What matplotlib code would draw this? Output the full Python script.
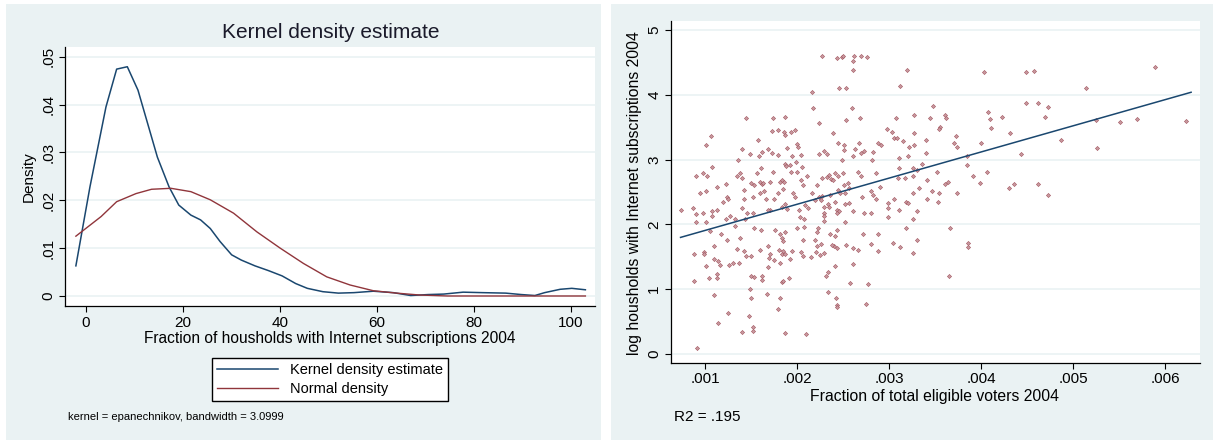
import numpy as np
import matplotlib
matplotlib.use("Agg")
import matplotlib.pyplot as plt
from matplotlib.patches import Rectangle

plt.rcParams['font.family'] = ['Liberation Sans', 'DejaVu Sans']

# ---- left panel: kernel density vs normal density ----
kde_x = [-2.0, 0.9, 4.2, 6.4, 8.6, 10.8, 12.8, 14.8, 17.2, 19.2, 21.7, 23.7, 25.7,
         27.7, 30.1, 32.1, 34.9, 37.7, 40.5, 43.3, 45.7, 48.9, 52.1, 55.3, 59.3,
         63.4, 67.0, 70.6, 73.8, 77.8, 81.8, 86.6, 89.8, 92.6, 94.6, 97.8, 100.2, 103.0]
kde_y = [0.0063, 0.0228, 0.0395, 0.0474, 0.0479, 0.043, 0.036, 0.029, 0.0228, 0.019,
         0.0169, 0.0159, 0.0141, 0.0114, 0.0086, 0.0075, 0.0063, 0.0053, 0.0042,
         0.0026, 0.0016, 0.0009, 0.0006, 0.0007, 0.0010, 0.0007, 0.0001, 0.0003,
         0.0004, 0.0008, 0.0007, 0.0006, 0.0003, 0.0001, 0.0007, 0.0014, 0.0016, 0.0013]

norm_x = [-2.0, 3.2, 6.4, 10.4, 13.6, 17.6, 21.7, 25.7, 30.5, 35.3, 40.1, 44.9,
          49.7, 54.5, 59.3, 64.1, 68.9, 74.6, 85.0, 95.0, 103.0]
norm_y = [0.0125, 0.0166, 0.0197, 0.0214, 0.0223, 0.0225, 0.0218, 0.0201, 0.0173,
          0.0134, 0.0100, 0.0068, 0.0040, 0.0023, 0.0011, 0.0006, 0.0002, 0.0,
          0.0, 0.0, 0.0]

dens_ticks = [0, 0.01, 0.02, 0.03, 0.04, 0.05]
dens_labels = ["0", ".01", ".02", ".03", ".04", ".05"]
frac_ticks = [0, 20, 40, 60, 80, 100]

# ---- right panel: scatter + fitted line ----
# x in thousandths of total eligible voters
voters_k = [2.27, 2.43, 2.48, 2.50, 2.62, 2.69, 2.76, 2.61, 2.61, 3.19, 2.45, 2.53, 2.16, 3.12,
            4.03, 4.49, 4.57, 5.89, 5.14, 4.49, 4.62, 4.72, 4.69, 4.22, 4.07, 4.09, 4.10, 4.31,
            4.87, 5.25, 5.51, 5.69, 6.22, 5.26, 4.06, 4.00, 4.43, 4.30, 4.36, 4.62, 4.72, 3.98,
            3.91, 3.84, 3.84, 3.47, 3.44, 3.60, 3.62, 3.72, 3.73, 3.70, 3.55, 3.54, 3.40, 3.40,
            3.35, 3.27, 3.27, 3.27, 3.07, 2.97, 3.03, 3.05, 3.08, 3.15, 3.21, 3.20, 3.10, 2.91,
            2.88, 2.82, 2.81, 2.69, 2.72, 2.67, 2.63, 2.61, 2.59, 2.68, 2.53, 2.39, 2.44, 2.51,
            2.51, 2.49, 2.29, 2.32, 2.24, 2.17, 2.23, 2.00, 2.01, 2.04, 1.97, 1.93, 1.86, 1.85,
            1.86, 1.79, 1.73, 1.72, 1.57, 1.44, 1.40, 1.48, 1.35, 1.06, 1.01, 1.07, 0.90, 0.97,
            1.02, 1.01, 0.94, 0.73, 0.86, 0.90, 0.90, 0.97, 1.07, 1.01, 1.07, 1.13, 1.13, 1.22,
            1.19, 1.24, 1.25, 1.22, 1.27, 1.32, 1.32, 1.38, 1.34, 1.40, 1.42, 1.42, 1.40, 1.45,
            1.43, 1.50, 1.53, 1.52, 1.56, 1.58, 1.62, 1.60, 1.59, 1.62, 1.63, 1.64, 1.59, 1.66,
            1.68, 1.72, 1.73, 1.70, 1.70, 1.68, 1.75, 1.79, 1.81, 1.83, 1.85, 1.84, 1.79, 1.86,
            1.88, 1.92, 1.89, 1.94, 1.98, 1.93, 1.95, 1.97, 1.87, 1.83, 1.89, 2.00, 2.04, 2.06,
            2.05, 2.10, 2.08, 2.11, 2.02, 2.03, 2.07, 2.16, 2.19, 2.23, 2.27, 2.26, 2.21, 2.27,
            2.32, 2.34, 2.37, 2.39, 2.41, 2.44, 2.50, 2.51, 2.52, 2.55, 2.56, 2.44, 2.46, 2.36,
            2.33, 2.29, 2.34, 2.41, 2.43, 2.45, 2.43, 2.29, 2.29, 2.29, 2.52, 2.56, 2.52, 2.61,
            2.72, 2.80, 2.82, 2.80, 2.70, 2.69, 2.66, 2.86, 2.85, 2.90, 2.99, 2.99, 2.98, 3.05,
            3.10, 3.18, 3.20, 3.26, 3.26, 3.30, 3.32, 3.26, 3.26, 3.17, 3.11, 3.09, 3.30, 3.41,
            3.52, 3.41, 3.46, 3.54, 3.53, 3.61, 3.64, 3.73, 3.66, 3.86, 3.85, 3.65, 3.30, 3.26,
            3.12, 3.04, 3.18, 2.88, 2.88, 2.80, 2.71, 2.66, 2.61, 2.57, 2.77, 2.75, 2.61, 2.53,
            2.40, 2.38, 2.41, 2.43, 2.43, 2.41, 2.35, 2.33, 2.31, 2.33, 2.42, 2.43, 2.43, 2.29,
            2.25, 2.20, 2.19, 2.21, 2.22, 2.21, 2.26, 2.15, 2.06, 2.04, 2.06, 2.00, 2.07, 2.09,
            1.86, 1.91, 1.83, 1.84, 1.81, 1.79, 1.83, 1.86, 1.80, 1.84, 1.81, 1.92, 1.94, 1.87,
            1.81, 1.83, 1.84, 1.76, 1.75, 1.68, 1.70, 1.69, 1.68, 1.67, 1.62, 1.62, 1.59, 1.60,
            1.53, 1.52, 1.50, 1.50, 1.53, 1.48, 1.50, 1.47, 1.52, 1.52, 1.40, 1.42, 1.44, 1.34,
            1.36, 1.30, 1.26, 1.38, 1.24, 1.17, 1.14, 1.16, 1.13, 1.13, 1.09, 1.09, 1.05, 1.01,
            1.04, 1.09, 1.14, 1.25, 0.98, 0.99, 0.88, 0.88, 0.91]
log_hh = [4.60, 4.57, 4.59, 4.60, 4.60, 4.60, 4.59, 4.52, 4.38, 4.38, 4.10, 4.10, 4.04, 4.14,
          4.35, 4.35, 4.37, 4.43, 4.10, 3.88, 3.87, 3.82, 3.66, 3.66, 3.73, 3.63, 3.49, 3.41,
          3.30, 3.61, 3.58, 3.63, 3.59, 3.18, 2.81, 3.26, 3.08, 2.56, 2.62, 2.62, 2.46, 2.64,
          2.74, 2.92, 3.05, 3.83, 3.64, 3.69, 3.64, 3.37, 3.20, 3.25, 3.51, 3.47, 3.30, 3.10,
          2.94, 3.41, 3.23, 3.69, 3.64, 3.48, 3.42, 3.33, 3.33, 3.29, 3.20, 3.05, 3.02, 3.23,
          3.25, 3.12, 3.00, 3.10, 3.14, 3.26, 3.17, 3.05, 3.79, 3.65, 3.61, 3.41, 3.26, 3.23,
          3.15, 2.99, 3.13, 3.08, 3.09, 3.80, 3.56, 3.24, 3.20, 3.07, 3.46, 3.43, 3.66, 3.43,
          3.38, 3.45, 3.65, 3.44, 3.31, 3.65, 3.16, 3.09, 3.00, 3.36, 3.23, 2.89, 2.75, 2.80,
          2.75, 2.52, 2.49, 2.23, 2.25, 2.16, 2.03, 2.17, 2.21, 2.04, 2.13, 2.23, 2.58, 2.62,
          2.35, 2.43, 2.39, 2.09, 2.13, 2.09, 1.97, 2.79, 2.75, 2.71, 2.53, 2.39, 2.25, 2.17,
          2.08, 2.64, 2.61, 2.43, 2.79, 3.05, 3.12, 2.87, 2.65, 2.62, 2.64, 2.51, 2.48, 2.40,
          3.16, 3.10, 2.81, 2.66, 2.22, 2.22, 2.39, 2.49, 2.66, 2.69, 2.66, 2.54, 3.07, 2.94,
          2.90, 2.92, 3.18, 3.05, 2.97, 2.81, 2.48, 2.43, 2.31, 2.27, 2.24, 2.81, 2.69, 2.61,
          2.89, 2.74, 2.30, 2.25, 2.22, 2.12, 2.09, 2.48, 2.38, 2.43, 2.44, 2.38, 2.61, 2.72,
          2.73, 2.76, 2.70, 2.69, 2.80, 2.75, 2.79, 2.61, 2.48, 2.64, 2.56, 2.53, 2.48, 2.45,
          2.32, 2.27, 2.27, 2.34, 2.23, 2.21, 2.18, 2.17, 2.13, 2.06, 2.31, 2.33, 2.04, 2.21,
          2.17, 2.17, 2.45, 2.51, 2.43, 2.75, 2.81, 2.79, 2.39, 2.58, 2.33, 2.25, 2.11, 2.39,
          2.22, 2.35, 2.33, 2.49, 2.09, 2.20, 2.56, 2.87, 2.74, 2.71, 2.87, 2.71, 2.84, 2.69,
          2.81, 2.39, 2.51, 2.48, 2.34, 2.63, 2.66, 2.48, 1.94, 1.72, 1.65, 1.20, 1.76, 1.56,
          1.65, 1.72, 1.95, 1.86, 1.59, 1.70, 1.86, 1.60, 1.39, 1.10, 1.08, 0.77, 1.63, 1.68,
          1.67, 1.68, 1.82, 1.91, 1.63, 1.36, 1.86, 1.26, 1.20, 0.96, 0.86, 0.76, 0.72, 1.56,
          1.53, 1.58, 1.76, 1.66, 1.94, 1.89, 1.70, 1.50, 1.51, 1.57, 1.76, 1.95, 1.96, 0.31,
          0.33, 1.18, 1.11, 1.12, 0.86, 0.70, 1.55, 1.55, 1.60, 1.59, 1.41, 1.47, 1.59, 1.89,
          1.86, 1.79, 1.75, 1.91, 1.45, 1.66, 1.55, 1.48, 1.35, 0.93, 1.20, 1.15, 1.60, 1.91,
          1.94, 2.17, 1.51, 1.20, 1.19, 1.01, 0.86, 0.59, 0.42, 0.36, 0.34, 1.59, 1.51, 1.62,
          1.41, 1.41, 1.37, 1.79, 1.76, 1.86, 1.44, 1.37, 1.24, 1.18, 1.46, 1.67, 1.90, 1.36,
          1.17, 0.91, 0.48, 0.64, 1.58, 1.54, 1.54, 1.13, 0.10]
fit_x = [0.00073, 0.00628]
fit_y = [1.80, 4.04]

vote_ticks = [0.001, 0.002, 0.003, 0.004, 0.005, 0.006]
vote_labels = [".001", ".002", ".003", ".004", ".005", ".006"]
log_ticks = [0, 1, 2, 3, 4, 5]

navy = '#1a476f'
maroon = '#90353b'
bg = '#eaf2f3'
W, H = 1213, 441

fig = plt.figure(figsize=(W / 100, H / 100), dpi=100, facecolor='white')
fig.patches.append(Rectangle((6 / W, 1 / H), 595 / W, 436 / H, transform=fig.transFigure,
                             facecolor=bg, edgecolor='none', zorder=-10))
fig.patches.append(Rectangle((611 / W, 1 / H), 602 / W, 436 / H, transform=fig.transFigure,
                             facecolor=bg, edgecolor='none', zorder=-10))


def style_axes(ax):
    ax.set_facecolor('white')
    for s in ['top', 'right']:
        ax.spines[s].set_visible(False)
    for s in ['left', 'bottom']:
        ax.spines[s].set_color('black')
        ax.spines[s].set_linewidth(0.9)
    ax.grid(axis='y', color=bg, linewidth=1.2)
    ax.set_axisbelow(True)
    ax.tick_params(direction='out', length=4, width=0.8, labelsize=11, colors='black', pad=3)
    ax.tick_params(axis='y', labelrotation=90)
    for lab in ax.get_yticklabels():
        lab.set_va('center')


# left
ax1 = fig.add_axes([65.4 / W, 1 - 306 / H, 529.2 / W, 258.7 / H])
l1, = ax1.plot(kde_x, kde_y, color=navy, lw=1.1, label='Kernel density estimate')
l2, = ax1.plot(norm_x, norm_y, color=maroon, lw=1.0, label='Normal density')
ax1.set_xlim(-4.16, 104.9)
ax1.set_ylim(-0.00209, 0.05196)
ax1.set_xticks(frac_ticks)
ax1.set_yticks(dens_ticks)
ax1.set_yticklabels(dens_labels)
style_axes(ax1)

fig.text(0.2726, 1 - 32 / H, 'Kernel density estimate', ha='center', va='center',
         fontsize=15, color='#1a1a2a')
fig.text(0.272, 1 - 338 / H, 'Fraction of housholds with Internet subscriptions 2004',
         ha='center', va='center', fontsize=11.2)
fig.text(29 / W, 1 - 177 / H, 'Density', ha='center', va='center', rotation=90, fontsize=11)
fig.text(68 / W, 1 - 417 / H, 'kernel = epanechnikov, bandwidth = 3.0999',
         ha='left', va='center', fontsize=8)
leg = fig.legend(handles=[l1, l2], loc='center', bbox_to_anchor=(0.272, 1 - 379.5 / H),
                 fontsize=10.5, frameon=True, fancybox=False, framealpha=1,
                 edgecolor='black', handlelength=4.2, labelspacing=0.35,
                 borderpad=0.35, handletextpad=0.8)
leg.get_frame().set_linewidth(1.0)

# right
ax2 = fig.add_axes([670.9 / W, 1 - 362.7 / H, 529.3 / W, 341.7 / H])
ax2.scatter(np.array(voters_k) / 1000, log_hh, marker='D', s=4.5, facecolor='#c99aa0',
            edgecolor='#a0505a', linewidths=0.4, zorder=3)
ax2.plot(fit_x, fit_y, color=navy, lw=1.1, zorder=4)
ax2.set_xlim(0.000625, 0.006379)
ax2.set_ylim(-0.134, 5.14)
ax2.set_xticks(vote_ticks)
ax2.set_xticklabels(vote_labels)
ax2.set_yticks(log_ticks)
style_axes(ax2)

fig.text(935 / W, 1 - 396 / H, 'Fraction of total eligible voters 2004',
         ha='center', va='center', fontsize=11.3)
fig.text(634 / W, 1 - 193 / H, 'log housholds with Internet subscriptions 2004',
         ha='center', va='center', rotation=90, fontsize=11.3)
fig.text(674 / W, 1 - 417 / H, 'R2 = .195', ha='left', va='center', fontsize=11)

fig.savefig('out.png', dpi=100)
